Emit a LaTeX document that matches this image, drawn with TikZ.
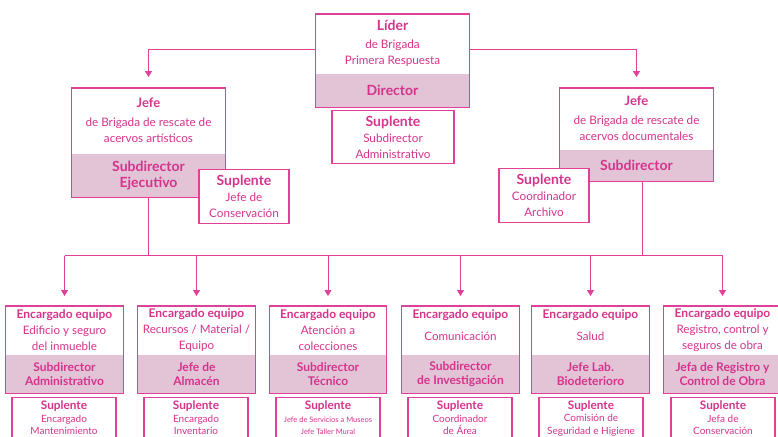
\documentclass[tikz,border=0pt]{standalone}
\usepackage{fontspec}
\setmainfont{Lato}
\usetikzlibrary{arrows.meta,calc}
\definecolor{mag}{RGB}{214,51,140}
\definecolor{lin}{RGB}{224,64,152}
\definecolor{shd}{RGB}{226,196,214}
\tikzset{
 x=1pt,y=-1pt,
 half/.style={inner sep=0pt, align=center, text=mag, font=\fontsize{11.7}{16}\selectfont},
 shadehalf/.style={inner sep=0pt, align=center, text=mag, fill=shd, font=\bfseries\fontsize{14}{16}\selectfont},
 smallhalf/.style={half, font=\fontsize{11.6}{16}\selectfont},
 smallshade/.style={shadehalf, font=\bfseries\fontsize{12}{13.5}\selectfont},
 border/.style={draw=lin, line width=1.1pt},
 supl/.style={draw=lin, line width=1.1pt, fill=white, inner sep=0pt, align=center, text=mag, font=\fontsize{11.7}{16}\selectfont},
 subsupl/.style={supl, font=\fontsize{10}{12.5}\selectfont},
 conn/.style={draw=lin, line width=1pt},
 arr/.style={conn, -{Triangle[length=6pt,width=7pt]}},
 bighalf/.style={half},
 bighalfshade/.style={shadehalf},
 smallhalfshade/.style={smallshade},
}
% name, cx, top, w, h1, h2, toptext, bottomtext, topstyle
\newcommand\orgbox[9]{%
 \node[#9, minimum width=#4pt, minimum height=#5pt, anchor=north] (#1-t) at (#2,#3) {#7};
 \node[#9shade, minimum width=#4pt, minimum height=#6pt, anchor=north] (#1-b) at (#1-t.south) {#8};
 \draw[border] (#1-t.north west) rectangle (#1-b.south east);
}
\newcommand\hd[1]{{\bfseries\fontsize{14}{16}\selectfont #1}}
\newcommand\shd[1]{{\bfseries\fontsize{12}{16}\selectfont #1}}
\newcommand\sshd[1]{{\bfseries\fontsize{11.8}{12.5}\selectfont #1}}
\begin{document}
\begin{tikzpicture}
\useasboundingbox (0,0) rectangle (778,436);
\fill[white] (0,0) rectangle (778,436);

% top level
\orgbox{top}{392.5}{14}{153}{59}{34}{\hd{Líder}\\[2pt]de Brigada\\Primera Respuesta}{Director}{bighalf}
\node[supl, minimum width=122pt, minimum height=53pt, anchor=north] (topS) at (393,110)
 {\hd{Suplente}\\Subdirector\\Administrativo};

% left jefe
\orgbox{lj}{148.5}{88}{153}{65}{44}{{\bfseries\fontsize{13}{16}\selectfont Jefe}\\[3pt]de Brigada de rescate de\\acervos artísticos}{Subdirector\\Ejecutivo}{bighalf}
\node[supl, minimum width=90pt, minimum height=54pt, anchor=north] (ljS) at (244,169)
 {\hd{Suplente}\\Jefe de\\Conservación};

% right jefe
\orgbox{rj}{636.5}{88}{153}{61}{32}{{\bfseries\fontsize{13}{16}\selectfont Jefe}\\[3pt]de Brigada de rescate de\\acervos documentales}{Subdirector}{bighalf}
\node[supl, minimum width=90pt, minimum height=54pt, anchor=north] (rjS) at (544,168)
 {\hd{Suplente}\\Coordinador\\Archivo};

% bottom level
\orgbox{b1}{64.5}{306}{117}{48}{39}{\shd{Encargado equipo}\\Edificio y seguro\\del inmueble}{Subdirector\\Administrativo}{smallhalf}
\orgbox{b2}{196.5}{306}{117}{48}{39}{\shd{Encargado equipo}\\Recursos / Material /\\Equipo}{Jefe de\\Almacén}{smallhalf}
\orgbox{b3}{328}{306}{117}{48}{39}{\shd{Encargado equipo}\\Atención a\\colecciones}{Subdirector\\Técnico}{smallhalf}
\orgbox{b4}{460.5}{306}{117}{48}{39}{\shd{Encargado equipo}\\[6pt]Comunicación\\[-6pt]\mbox{}}{Subdirector\\de Investigación}{smallhalf}
\orgbox{b5}{590.5}{306}{117}{48}{39}{\shd{Encargado equipo}\\[6pt]Salud\\[-6pt]\mbox{}}{Jefe Lab.\\Biodeterioro}{smallhalf}
\orgbox{b6}{722.5}{306}{117}{48}{39}{\shd{Encargado equipo}\\Registro, control y\\seguros de obra}{Jefa de Registro y\\Control de Obra}{smallhalf}

\node[subsupl, minimum width=104pt, minimum height=41pt, anchor=north] (b1S) at (64,397)
 {\sshd{Suplente}\\Encargado\\Mantenimiento};
\node[subsupl, minimum width=104pt, minimum height=41pt, anchor=north] (b2S) at (196,397)
 {\sshd{Suplente}\\Encargado\\Inventario};
\node[subsupl, minimum width=104pt, minimum height=41pt, anchor=north] (b3S) at (328,397)
 {\sshd{Suplente}\\{\fontsize{7.5}{12.5}\selectfont Jefe de Servicios a Museos}\\{\fontsize{7.5}{12.5}\selectfont Jefe Taller Mural}};
\node[subsupl, minimum width=104pt, minimum height=41pt, anchor=north] (b4S) at (460,397)
 {\sshd{Suplente}\\Coordinador\\de Área};
\node[subsupl, minimum width=104pt, minimum height=41pt, anchor=north] (b5S) at (591,397)
 {\sshd{Suplente}\\Comisión de\\Seguridad e Higiene};
\node[subsupl, minimum width=104pt, minimum height=41pt, anchor=north] (b6S) at (723,397)
 {\sshd{Suplente}\\Jefa de\\Conservación};

% connectors top
\draw[arr, shorten >=11pt] (top-t.north west) ++(0,36) -| (lj-t.north);
\draw[arr, shorten >=11pt] (top-t.north east) ++(0,36) -| (rj-t.north);

% bus
\coordinate (bus) at (0,255.5);
\coordinate (rjdrop) at ($(rj-b.south)+(5.5,0)$);
\draw[conn] (lj-b.south) -- (lj-b.south |- bus);
\draw[conn] (rjdrop) -- (rjdrop |- bus);
\draw[conn] (b1-t.north |- bus) -- (b6-t.north |- bus);
\foreach \b in {b1,b2,b3,b4,b5,b6}{
 \draw[arr, shorten >=10pt] (\b-t.north |- bus) -- (\b-t.north);
}
\end{tikzpicture}
\end{document}
